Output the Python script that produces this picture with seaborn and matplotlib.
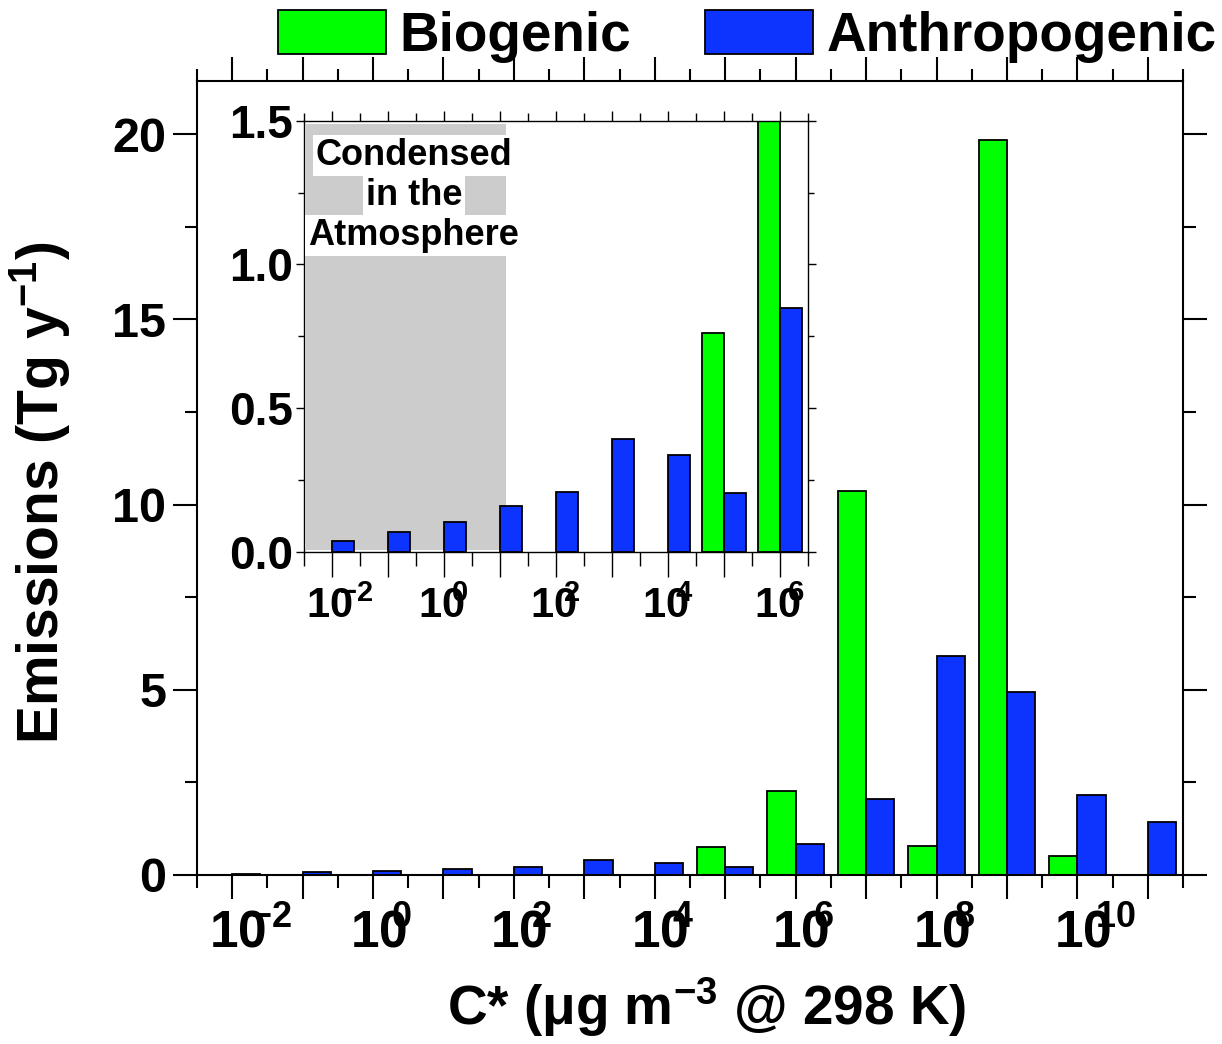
import numpy as np
import pandas as pd
import matplotlib
matplotlib.use("Agg")
import matplotlib.pyplot as plt
from matplotlib import font_manager
from matplotlib.ticker import FixedLocator, FuncFormatter, MultipleLocator, NullFormatter, FormatStrFormatter
from matplotlib.transforms import ScaledTranslation
from matplotlib.patches import Patch
import seaborn as sns

# ---------------- data ----------------
c_star = [1e-2, 1e-1, 1e0, 1e1, 1e2, 1e3, 1e4, 1e5, 1e6, 1e7, 1e8, 1e9, 1e10, 1e11]
biogenic = [0, 0, 0, 0, 0, 0, 0, 0.76, 2.26, 10.36, 0.78, 19.85, 0.51, 0]
anthropogenic = [0.036, 0.068, 0.102, 0.159, 0.206, 0.393, 0.336, 0.204, 0.849,
                 2.05, 5.90, 4.95, 2.16, 1.43]
sources = ["Biogenic", "Anthropogenic"]
colors = ["#00ff00", "#0d33ff"]
main_yticks = [0, 5, 10, 15, 20]
inset_yticks = [0.0, 0.5, 1.0, 1.5]
inset_label = ["Condensed", "in the", "Atmosphere"]
xlabel = "C* (\u03bcg m$^{-3}$ @ 298 K)"
ylabel = "Emissions (Tg y$^{-1}$)"

# ---------------- fonts ----------------
names = {f.name for f in font_manager.fontManager.ttflist}
NARROW = "Liberation Sans Narrow" if "Liberation Sans Narrow" in names else "Liberation Sans"
plt.rcParams.update({
    "font.family": ["Liberation Sans", "DejaVu Sans"],
    "font.weight": "bold",
    "mathtext.fontset": "custom",
    "mathtext.default": "bf",
    "mathtext.rm": "Liberation Sans:bold",
    "mathtext.bf": "Liberation Sans:bold",
    "mathtext.it": "Liberation Sans:bold",
    "mathtext.sf": NARROW + ":bold",
    "axes.linewidth": 1.5,
})

df = pd.DataFrame({
    "C*": c_star * 2,
    "Emissions": biogenic + anthropogenic,
    "Source": [sources[0]] * len(c_star) + [sources[1]] * len(c_star),
})
df = df[df["Emissions"] > 0]


def draw_bars(a):
    sns.barplot(data=df, x="C*", y="Emissions", hue="Source", hue_order=sources,
                palette=dict(zip(sources, colors)), native_scale=True,
                log_scale=(True, False), width=0.8, dodge=True, errorbar=None,
                edgecolor="black", linewidth=1.3, saturation=1, legend=False, ax=a)


def exp_label(v, pos):
    e = int(round(np.log10(v)))
    return r"$\mathsf{10^{\!\!\!{%d}}}$" % e if e % 2 == 0 else ""


def shift_xlabels(a, dx_inch):
    for t in a.xaxis.get_major_ticks():
        t.label1.set_horizontalalignment("left")
        t.label1.set_transform(t.label1.get_transform() +
                               ScaledTranslation(dx_inch, 0, fig.dpi_scale_trans))


fig = plt.figure(figsize=(12.22, 10.44), dpi=100)

# ---------------- main axes ----------------
ax = fig.add_axes([0.1612, 0.1619, 0.8069, 0.7608])
draw_bars(ax)
ax.set_xlim(10 ** -2.5, 10 ** 11.5)
ax.set_ylim(0, 21.44)
ax.xaxis.set_major_locator(FixedLocator(c_star))
ax.xaxis.set_minor_locator(FixedLocator([v / np.sqrt(10) for v in c_star] + [c_star[-1] * np.sqrt(10)]))
ax.xaxis.set_major_formatter(FuncFormatter(exp_label))
ax.xaxis.set_minor_formatter(NullFormatter())
ax.yaxis.set_major_locator(FixedLocator(main_yticks))
ax.yaxis.set_minor_locator(MultipleLocator(2.5))
ax.tick_params(which="both", direction="out", top=True, right=True, width=1.5)
ax.tick_params(which="major", length=17)
ax.tick_params(which="minor", length=9)
ax.tick_params(axis="x", labelsize=37, pad=7)
ax.tick_params(axis="y", labelsize=35, pad=5)
ax.set_xlabel(xlabel, fontsize=39.5, fontweight="bold")
ax.xaxis.set_label_coords(0.517, -0.126)
ax.set_ylabel(ylabel, fontsize=41, fontweight="bold")
ax.yaxis.set_label_coords(-0.127, 0.482)
shift_xlabels(ax, -0.235)

# ---------------- inset ----------------
axi = fig.add_axes([0.2488, 0.4716, 0.4124, 0.4128])
draw_bars(axi)
axi.set_xlim(10 ** -2.5, 10 ** 6.5)
axi.set_ylim(0, 1.5)
axi.axvspan(10 ** -2.47, 10 ** 1.1, ymin=0.004, ymax=0.993, color="#cccccc", lw=0, zorder=0.5)
axi.xaxis.set_major_locator(FixedLocator(c_star[:9]))
axi.xaxis.set_minor_locator(FixedLocator([v / np.sqrt(10) for v in c_star[:9]] + [c_star[8] * np.sqrt(10)]))
axi.xaxis.set_major_formatter(FuncFormatter(exp_label))
axi.xaxis.set_minor_formatter(NullFormatter())
axi.yaxis.set_major_locator(FixedLocator(inset_yticks))
axi.yaxis.set_minor_locator(MultipleLocator(0.25))
axi.yaxis.set_major_formatter(FormatStrFormatter("%.1f"))
for s in axi.spines.values():
    s.set_linewidth(1.0)
axi.tick_params(which="both", direction="out", top=True, right=True, width=1.0)
axi.tick_params(axis="x", which="major", length=18, labelsize=30, pad=7)
axi.tick_params(axis="x", which="minor", length=10)
axi.tick_params(axis="y", which="major", length=6, labelsize=33, pad=2)
axi.tick_params(axis="y", which="minor", length=4)
axi.set_xlabel("")
axi.set_ylabel("")
for y, line in zip([1.38, 1.239, 1.10], inset_label):
    axi.text(10 ** -0.54, y, line, ha="center", va="center", fontsize=26, fontweight="bold",
             bbox=dict(boxstyle="square,pad=0.08", fc="white", ec="none"), zorder=3)
for t in axi.xaxis.get_major_ticks():
    t.tick2line.set_markersize(7)
for t in axi.xaxis.get_minor_ticks():
    t.tick2line.set_markersize(6)
shift_xlabels(axi, -0.26)

# ---------------- legend ----------------
handles = [Patch(facecolor=c, edgecolor="black", linewidth=1.3, label=s) for s, c in zip(sources, colors)]
fig.legend(handles=handles, loc="center right", bbox_to_anchor=(0.996, 0.965), ncol=2,
           frameon=False, prop=dict(size=39.5, weight="bold"), handlelength=1.97, handleheight=0.84,
           handletextpad=0.25, columnspacing=1.35, borderpad=0, borderaxespad=0)

fig.savefig("out.png", dpi=100)
